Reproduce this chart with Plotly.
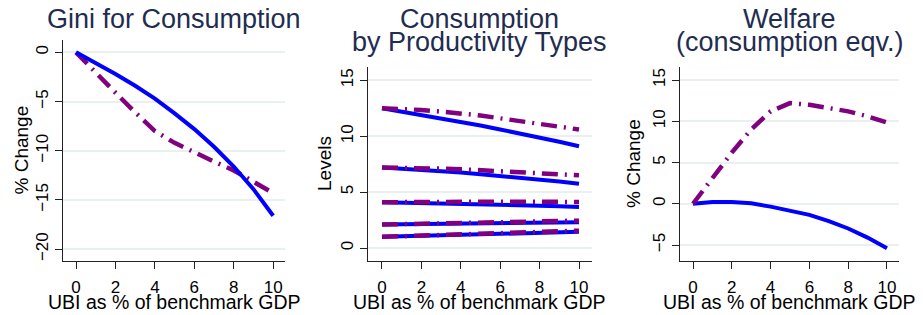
import plotly.graph_objects as go

W, H = 923, 315

ubi = [0, 1, 2, 3, 4, 5, 6, 7, 8, 9, 10]

gini_blue = [0, -1.05, -2.2, -3.4, -4.7, -6.2, -7.8, -9.6, -11.6, -13.9, -16.6]
gini_purple = [0, -2.1, -4.1, -6.1, -8.0, -9.2, -10.2, -11.1, -12.0, -13.1, -14.3]

cons_blue = [
    [12.5, 12.2, 11.9, 11.6, 11.3, 10.95, 10.6, 10.25, 9.9, 9.5, 9.1],
    [7.2, 7.1, 7.0, 6.9, 6.75, 6.6, 6.45, 6.3, 6.1, 5.95, 5.75],
    [4.1, 4.07, 4.04, 4.0, 3.97, 3.93, 3.88, 3.83, 3.78, 3.73, 3.68],
    [2.1, 2.12, 2.14, 2.16, 2.18, 2.2, 2.22, 2.24, 2.26, 2.28, 2.3],
    [1.0, 1.05, 1.1, 1.14, 1.19, 1.23, 1.28, 1.32, 1.37, 1.41, 1.45],
]
cons_purple = [
    [12.5, 12.45, 12.35, 12.2, 12.05, 11.85, 11.6, 11.35, 11.1, 10.85, 10.6],
    [7.2, 7.2, 7.15, 7.1, 7.05, 6.95, 6.9, 6.8, 6.7, 6.6, 6.5],
    [4.1, 4.12, 4.13, 4.14, 4.15, 4.15, 4.15, 4.15, 4.14, 4.13, 4.12],
    [2.1, 2.14, 2.18, 2.22, 2.26, 2.3, 2.33, 2.36, 2.39, 2.42, 2.45],
    [1.0, 1.06, 1.11, 1.17, 1.23, 1.28, 1.34, 1.39, 1.44, 1.5, 1.55],
]

welf_blue = [0, 0.2, 0.2, 0.05, -0.35, -0.8, -1.35, -2.1, -3.0, -4.1, -5.4]
welf_purple = [0, 3.1, 6.2, 9.0, 11.2, 12.2, 12.0, 11.6, 11.2, 10.6, 9.85]

title_lines = [["Gini for Consumption"],
               ["Consumption", "by Productivity Types"],
               ["Welfare", "(consumption eqv.)"]]
ytitles = ["% Change", "Levels", "% Change"]
xtitle = "UBI as % of benchmark GDP"
xticks = [0, 2, 4, 6, 8, 10]
yticks = [[0, -5, -10, -15, -20], [0, 5, 10, 15], [-5, 0, 5, 10, 15]]

BLUE = "#0000ff"
PURPLE = "#800080"
NAVY = "#1f2d50"
FONT = "Liberation Sans, Arial, sans-serif"
DASH = "16px,7px,2px,7px"

# pixel layout of each panel: (left, right, top, bottom)
panels = [(63, 285, 40, 261), (368, 592, 67, 261), (680, 899, 67, 261)]
xranges = [[-0.66, 10.6], [-0.71, 10.66], [-0.67, 10.62]]
yranges = [[-21.2, 1.25], [-1.16, 16.19], [-6.94, 16.58]]
ytitle_x = [21, 324, 633]
title_line_y = [19, 42]

fig = go.Figure()

def add(i, y, color, dash, width):
    fig.add_trace(go.Scatter(
        x=ubi, y=y, mode="lines",
        line=dict(color=color, width=width, dash=dash),
        xaxis="x" if i == 0 else f"x{i+1}",
        yaxis="y" if i == 0 else f"y{i+1}",
        showlegend=False, hoverinfo="skip"))

add(0, gini_purple, PURPLE, DASH, 4.5)
add(0, gini_blue, BLUE, "solid", 4)
for b in cons_blue:
    add(1, b, BLUE, "solid", 4)
for p in cons_purple:
    add(1, p, PURPLE, DASH, 4.5)
add(2, welf_blue, BLUE, "solid", 4)
add(2, welf_purple, PURPLE, DASH, 4.5)

layout = dict(
    width=W, height=H,
    margin=dict(l=0, r=0, t=0, b=0),
    paper_bgcolor="white", plot_bgcolor="white",
    font=dict(family=FONT, color="black", size=17),
    annotations=[],
)

for i, (l, r, t, b) in enumerate(panels):
    xk = "xaxis" if i == 0 else f"xaxis{i+1}"
    yk = "yaxis" if i == 0 else f"yaxis{i+1}"
    xa = "x" if i == 0 else f"x{i+1}"
    ya = "y" if i == 0 else f"y{i+1}"
    layout[xk] = dict(
        domain=[l / W, r / W], range=xranges[i], anchor=ya,
        tickvals=xticks, ticks="outside", ticklen=7, tickwidth=1.2,
        tickcolor="#222", showline=True, linecolor="#222", linewidth=1.2,
        showgrid=False, zeroline=False, ticklabelstandoff=3,
        tickfont=dict(size=17, family=FONT, color="black"),
    )
    layout[yk] = dict(
        domain=[1 - b / H, 1 - t / H], range=yranges[i], anchor=xa,
        tickvals=yticks[i], ticks="outside", ticklen=7, tickwidth=1.2,
        tickcolor="#222", showline=True, linecolor="#222", linewidth=1.2,
        showgrid=True, gridcolor="#e8f0f2", gridwidth=1.5, zeroline=False,
        tickangle=-90,
        tickfont=dict(size=17, family=FONT, color="black"),
    )
    cx = (l + r) / 2 / W
    for k, line in enumerate(title_lines[i]):
        layout["annotations"].append(dict(
            text=line, x=cx, y=1 - title_line_y[k] / H, xref="paper", yref="paper",
            xanchor="center", yanchor="middle", showarrow=False,
            font=dict(size=27, family=FONT, color=NAVY)))
    layout["annotations"].append(dict(
        text=xtitle, x=cx, y=1 - 302 / H, xref="paper", yref="paper",
        xanchor="center", yanchor="middle", showarrow=False,
        font=dict(size=19.5, family=FONT, color="black")))
    layout["annotations"].append(dict(
        text=ytitles[i], x=ytitle_x[i] / W, y=1 - ((t + b) / 2) / H,
        xref="paper", yref="paper", textangle=-90,
        xanchor="center", yanchor="middle", showarrow=False,
        font=dict(size=19, family=FONT, color="black")))

fig.update_layout(**layout)
fig.write_html("out.html", config={"displayModeBar": False},
               post_script="document.body.style.margin='0px';")
